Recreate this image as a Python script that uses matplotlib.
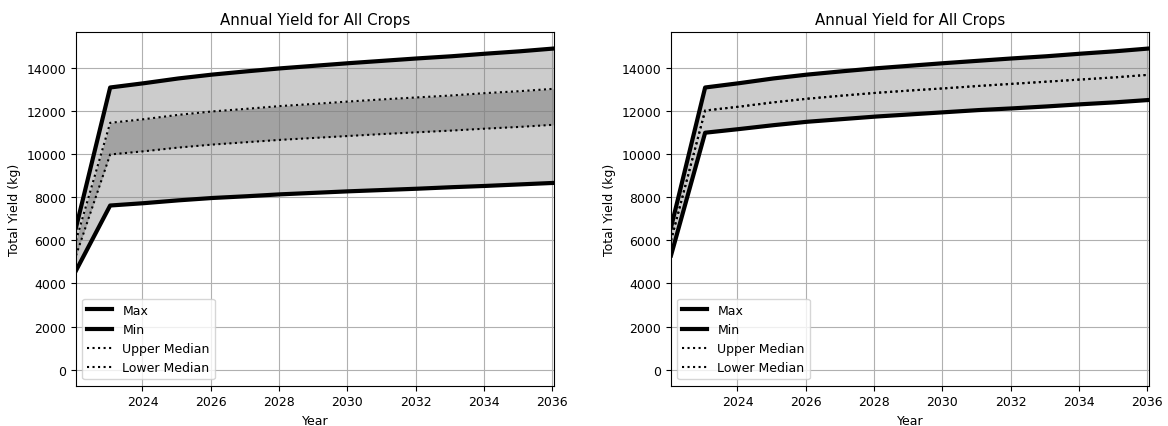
import matplotlib
matplotlib.use("Agg")
import matplotlib.pyplot as plt
import matplotlib.dates as mdates
import pandas as pd

plt.rcParams["font.size"] = 9

years = list(range(2022, 2037))

# Scenario A: wide spread between extremes, separate upper / lower medians
a_max = [6600, 13100, 13300, 13520, 13700, 13850, 13990, 14110, 14230, 14340,
         14450, 14550, 14670, 14780, 14910]
a_min = [4600, 7620, 7730, 7860, 7970, 8050, 8140, 8210, 8280, 8340,
         8400, 8470, 8530, 8600, 8670]
a_upper_med = [6000, 11460, 11630, 11830, 11990, 12110, 12240, 12340, 12450, 12550,
               12640, 12730, 12840, 12930, 13040]
a_lower_med = [5300, 9990, 10140, 10310, 10450, 10560, 10670, 10760, 10850, 10940,
               11020, 11100, 11190, 11270, 11370]

# Scenario B: narrow spread, both medians coincide
b_max = [6600, 13100, 13300, 13520, 13700, 13850, 13990, 14110, 14230, 14340,
         14450, 14550, 14670, 14780, 14910]
b_min = [5300, 11000, 11170, 11350, 11510, 11630, 11750, 11850, 11950, 12050,
         12130, 12220, 12320, 12410, 12520]
b_upper_med = [6000, 12030, 12210, 12410, 12580, 12720, 12850, 12960, 13060, 13170,
               13270, 13370, 13470, 13570, 13690]
b_lower_med = [6000, 12030, 12210, 12410, 12580, 12720, 12850, 12960, 13060, 13170,
               13270, 13370, 13470, 13570, 13690]

dates = pd.to_datetime([f"{y}-01-20" for y in years])

fig = plt.figure(figsize=(11.68, 4.27), dpi=100)
ax1 = fig.add_axes([0.0651, 0.0944, 0.4092, 0.8283])
ax2 = fig.add_axes([0.5745, 0.0944, 0.4092, 0.8283])


def draw(ax, ymax, ymin, upper, lower):
    ax.fill_between(dates, ymin, ymax, color="gray", alpha=0.4, lw=0)
    ax.fill_between(dates, lower, upper, color="gray", alpha=0.55, lw=0)
    ax.plot(dates, ymax, color="black", lw=3, label="Max")
    ax.plot(dates, ymin, color="black", lw=3, label="Min")
    ax.plot(dates, upper, color="black", lw=1.5, ls=":", label="Upper Median")
    ax.plot(dates, lower, color="black", lw=1.5, ls=":", label="Lower Median")
    ax.set_xlim(dates[0], dates[-1])
    ax.set_ylim(-746, 15676)
    ax.xaxis.set_major_locator(mdates.YearLocator(2))
    ax.xaxis.set_major_formatter(mdates.DateFormatter("%Y"))
    ax.grid(True)
    ax.set_axisbelow(True)
    ax.set_title("Annual Yield for All Crops")
    ax.set_xlabel("Year")
    ax.set_ylabel("Total Yield (kg)")
    ax.legend(loc="lower left")


draw(ax1, a_max, a_min, a_upper_med, a_lower_med)
draw(ax2, b_max, b_min, b_upper_med, b_lower_med)

fig.savefig("out.png", dpi=100)
